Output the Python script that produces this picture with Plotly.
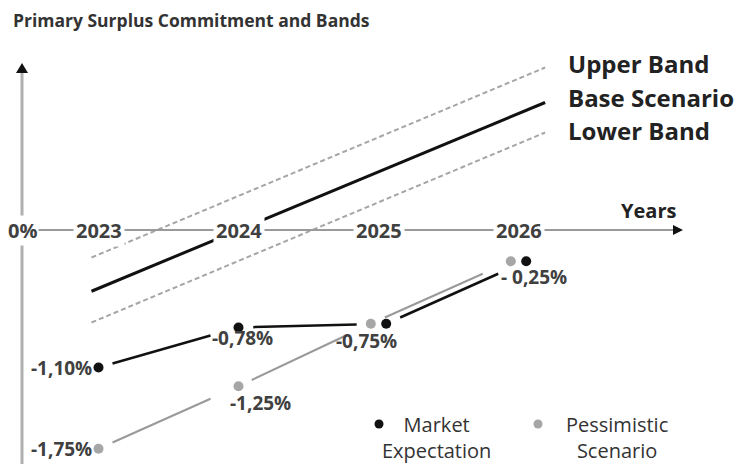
import plotly.graph_objects as go

# ---------------- data ----------------
years = [2023, 2024, 2025, 2026]
market = [-1.10, -0.78, -0.75, -0.25]
pessimistic = [-1.75, -1.25, -0.75, -0.25]
market_labels = ["-1,10%", "-0,78%", "-0,75%", "- 0,25%"]
pess_labels = ["-1,75%", "-1,25%", "", ""]
tick_labels = ["2023", "2024", "2025", "2026"]
band_years = [2022.95, 2026.19]
base_band = [-0.49, 1.02]
upper_band = [-0.22, 1.30]
lower_band = [-0.74, 0.78]

# ---------------- layout helpers ----------------
W, H = 739, 464
XR = [2022.2964, 2027.575]
YR = [-1.872, 1.84]


def px2x(px):
    return XR[0] + px / W * (XR[1] - XR[0])


def py2y(py):
    return YR[1] - py / H * (YR[1] - YR[0])


def pxp(px):
    return px / W


def pyp(py):
    return 1 - py / H


# small horizontal offset so coinciding points stay visible
d = 0.055
mx = [yr + (d if m == p else 0) for yr, m, p in zip(years, market, pessimistic)]
qx = [yr - (d if m == p else 0) for yr, m, p in zip(years, market, pessimistic)]


def gapped(xs, ys, f0=0.1, f1=0.2):
    """connect consecutive points with segments that stop short of the markers"""
    gx, gy = [], []
    for i in range(len(xs) - 1):
        dx, dy = xs[i + 1] - xs[i], ys[i + 1] - ys[i]
        gx += [xs[i] + f0 * dx, xs[i + 1] - f1 * dx, None]
        gy += [ys[i] + f0 * dy, ys[i + 1] - f1 * dy, None]
    return gx, gy


BLACK = "#111111"
GREY = "#a6a6a6"
TXT = "#404040"

fig = go.Figure()

# bands
fig.add_trace(go.Scatter(x=band_years, y=upper_band, mode="lines",
                         line=dict(color=GREY, width=2, dash="5px,3px"), hoverinfo="skip"))
fig.add_trace(go.Scatter(x=band_years, y=lower_band, mode="lines",
                         line=dict(color=GREY, width=2, dash="5px,3px"), hoverinfo="skip"))
fig.add_trace(go.Scatter(x=band_years, y=base_band, mode="lines",
                         line=dict(color=BLACK, width=3), hoverinfo="skip"))

# series lines (with gaps near the points)
gx, gy = gapped(qx, pessimistic)
fig.add_trace(go.Scatter(x=gx, y=gy, mode="lines",
                         line=dict(color="#999999", width=2), hoverinfo="skip"))
gx, gy = gapped(mx, market)
fig.add_trace(go.Scatter(x=gx, y=gy, mode="lines",
                         line=dict(color=BLACK, width=2.5), hoverinfo="skip"))
# points
fig.add_trace(go.Scatter(x=qx, y=pessimistic, mode="markers",
                         marker=dict(color=GREY, size=10), name="Pessimistic Scenario"))
fig.add_trace(go.Scatter(x=mx, y=market, mode="markers",
                         marker=dict(color=BLACK, size=10), name="Market Expectation"))

# axes drawn as shapes
yax_x = px2x(22)
x_tip = px2x(683)
y_tip = py2y(63)
fig.add_shape(type="line", x0=yax_x, x1=x_tip - 0.03, y0=0, y1=0,
              line=dict(color="#9a9a9a", width=2))
fig.add_shape(type="line", x0=yax_x, x1=yax_x, y0=YR[0], y1=y_tip - 0.05,
              line=dict(color="#b0b0b0", width=3))
fig.add_shape(type="path", xsizemode="pixel", ysizemode="pixel",
              xanchor=x_tip, yanchor=0, path="M -10,-5 L 0,0 L -10,5 Z",
              fillcolor=BLACK, line=dict(width=0))
fig.add_shape(type="path", xsizemode="pixel", ysizemode="pixel",
              xanchor=yax_x, yanchor=y_tip, path="M -6,-10 L 0,0 L 6,-10 Z",
              fillcolor=BLACK, line=dict(width=0))

ann = []
lab_font = dict(family="Open Sans", size=19, color=TXT, weight="bold")
tick_font = dict(family="Open Sans", size=20, color=TXT, weight="bold")

# year labels on the axis
for yr, t in zip(years, tick_labels):
    ann.append(dict(x=yr, y=0, text=t, showarrow=False, bgcolor="white",
                    xanchor="center", yanchor="middle", font=tick_font, borderpad=2))
ann.append(dict(x=yax_x, y=0, text="0%", showarrow=False, bgcolor="white",
                xanchor="center", yanchor="middle", font=tick_font, borderpad=1))

# value labels
m_shift = [(-5, 0, "right"), (4, -10, "center"), (-20, -17, "center"), (8, -16, "center")]
for x, y, t, (xs, ys, xa) in zip(mx, market, market_labels, m_shift):
    ann.append(dict(x=x, y=y, text=t, showarrow=False, xanchor=xa, yanchor="middle",
                    xshift=xs, yshift=ys, font=lab_font))
p_shift = [(-5, 0, "right"), (22, -17, "center"), (0, 0, "center"), (0, 0, "center")]
for x, y, t, (xs, ys, xa) in zip(qx, pessimistic, pess_labels, p_shift):
    if t:
        ann.append(dict(x=x, y=y, text=t, showarrow=False, xanchor=xa, yanchor="middle",
                        xshift=xs, yshift=ys, font=lab_font))

# title & other texts
ann.append(dict(xref="paper", yref="paper", x=pxp(11), y=pyp(20), xanchor="left",
                yanchor="middle", text="Primary Surplus Commitment and Bands", showarrow=False,
                font=dict(family="Open Sans", size=17.5, color="#333333", weight="bold")))
for t, py in [("Upper Band", 63), ("Base Scenario", 97), ("Lower Band", 130)]:
    ann.append(dict(xref="paper", yref="paper", x=pxp(566), y=pyp(py), xanchor="left",
                    yanchor="middle", text=t, showarrow=False,
                    font=dict(family="Open Sans", size=24, color="#222222", weight="bold")))
ann.append(dict(xref="paper", yref="paper", x=pxp(648), y=pyp(210), xanchor="center",
                yanchor="middle", text="Years", showarrow=False,
                font=dict(family="Open Sans", size=20, color="#222222", weight="bold")))

# custom legend
leg_font = dict(family="Open Sans", size=20, color="#333333")
for t, cx in [("Market<br>Expectation", 436), ("Pessimistic<br>Scenario", 617)]:
    ann.append(dict(xref="paper", yref="paper", x=pxp(cx), y=pyp(437), text=t,
                    xanchor="center", yanchor="middle", showarrow=False, font=leg_font,
                    borderpad=0))
for cx, col in [(379, BLACK), (538, GREY)]:
    fig.add_shape(type="circle", xref="paper", yref="paper",
                  x0=pxp(cx - 4.5), x1=pxp(cx + 4.5), y0=pyp(424 + 4.5), y1=pyp(424 - 4.5),
                  fillcolor=col, line=dict(width=0))

fig.update_layout(
    width=W, height=H, margin=dict(l=0, r=0, t=0, b=0),
    paper_bgcolor="white", plot_bgcolor="white", showlegend=False,
    xaxis=dict(range=XR, visible=False, fixedrange=True),
    yaxis=dict(range=YR, visible=False, fixedrange=True),
    annotations=ann,
)

fig.write_html("out.html")
